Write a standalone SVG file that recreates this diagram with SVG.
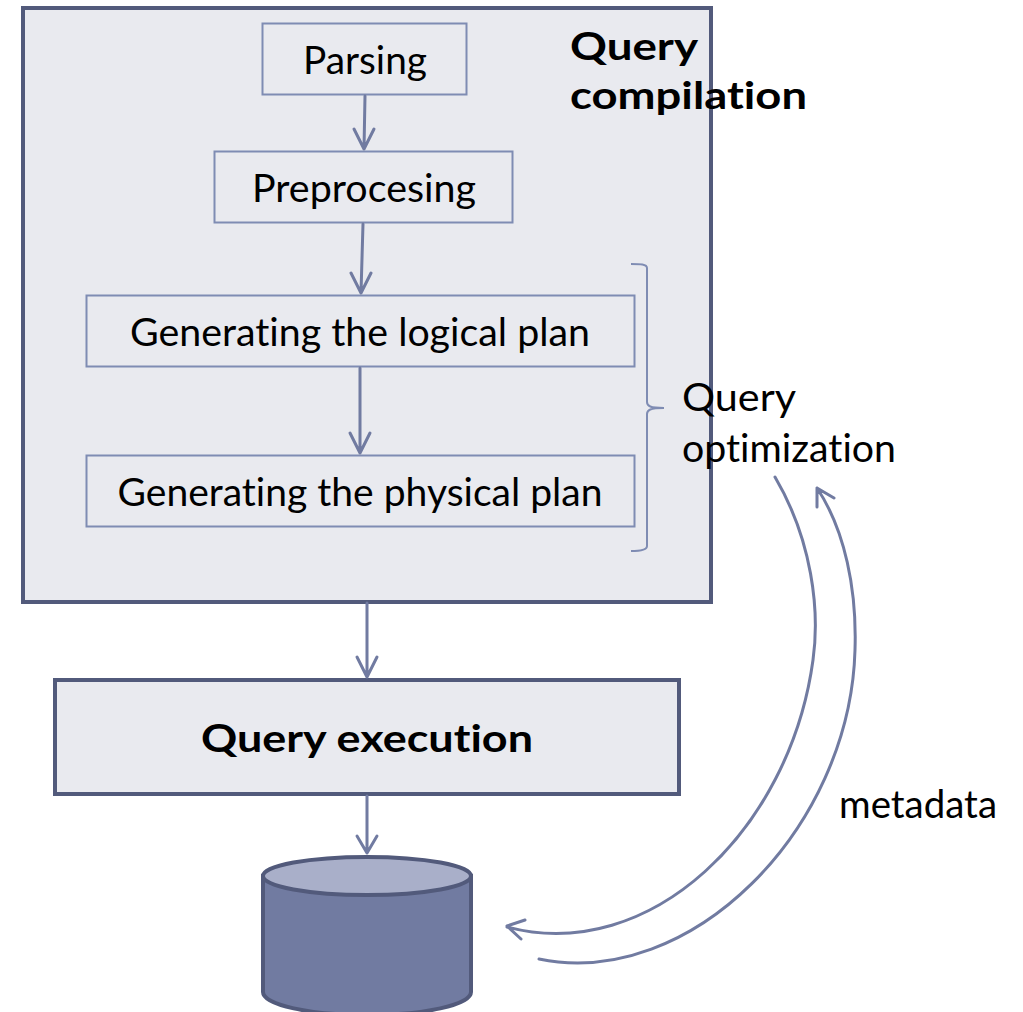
<svg xmlns="http://www.w3.org/2000/svg" width="1023" height="1012" viewBox="0 0 1023 1012">
<style>
text{font-family:"Lato","Noto Sans",sans-serif;font-size:38px;fill:#000;font-variant-ligatures:none}
.b{font-weight:700}
.step{fill:none;stroke:#7f8cb3;stroke-width:2}
.frame{fill:#e9eaef;stroke:#525a7b;stroke-width:4}
.c{fill:none;stroke:#717ba1;stroke-width:3;stroke-linecap:round;stroke-linejoin:round}
.br{fill:none;stroke:#7f8cb3;stroke-width:2}
</style>
<rect width="1023" height="1012" fill="#fff"/>
<g id="query-compilation"><rect class="frame" x="23" y="8" width="688" height="594"/></g>
<g id="parsing"><rect class="step" x="262.500" y="23.500" width="204" height="71"/><text x="365" y="74" text-anchor="middle" textLength="124" lengthAdjust="spacingAndGlyphs">Parsing</text></g>
<g id="preprocesing"><rect class="step" x="214.500" y="151.500" width="298" height="71"/><text x="364" y="202" text-anchor="middle" textLength="224" lengthAdjust="spacingAndGlyphs">Preprocesing</text></g>
<g id="logical-plan"><rect class="step" x="86.500" y="295.500" width="548" height="71"/><text x="360" y="346" text-anchor="middle" textLength="460" lengthAdjust="spacingAndGlyphs">Generating the logical plan</text></g>
<g id="physical-plan"><rect class="step" x="86.500" y="455.500" width="548" height="71"/><text x="360" y="506" text-anchor="middle" textLength="485" lengthAdjust="spacingAndGlyphs">Generating the physical plan</text></g>
<g id="query-execution"><rect class="frame" x="55" y="680" width="624" height="114"/><text class="b" x="367" y="752" text-anchor="middle" textLength="332" lengthAdjust="spacingAndGlyphs">Query execution</text></g>
<g id="database">
<path d="M263 876V992C263 1005 310 1015 367 1015S471 1005 471 992V876Z" fill="#717ba1" stroke="#525a7b" stroke-width="4"/>
<ellipse cx="367" cy="876" rx="104" ry="19" fill="#a9afc9" stroke="#525a7b" stroke-width="4"/>
</g>
<g id="connectors">
<path class="c" d="M365 96L364 149M354 129L364 149L374 129"/>
<path class="c" d="M363 224L361 293M351 273L361 293L371 273"/>
<path class="c" d="M360 368V453M350 433L360 453L370 433"/>
<path class="c" d="M367 603V677M357 657L367 677L377 657"/>
<path class="c" d="M367 796V853M357 836L367 853L377 836"/>
<path class="c" d="M775 477C812 540 820 610 813 660C790 830 650 965 507 927M525 920L507 926L521 939"/>
<path class="c" d="M539 959C690 990 850 830 855 650C857 590 845 530 817 488M817 507L817 488L834 498"/>
</g>
<g id="optimization-brace"><path class="br" d="M631 264C640 264 647 264 647 268V402C647 406 650 408 664 408C650 408 647 410 647 414V546C647 550 640 551 631 551"/></g>
<g id="labels">
<text class="b" x="570" y="60" textLength="128" lengthAdjust="spacingAndGlyphs">Query</text>
<text class="b" x="570" y="109" textLength="237" lengthAdjust="spacingAndGlyphs">compilation</text>
<text x="682" y="411" textLength="114" lengthAdjust="spacingAndGlyphs">Query</text>
<text x="682" y="462" textLength="214" lengthAdjust="spacingAndGlyphs">optimization</text>
<text x="839" y="818" textLength="158" lengthAdjust="spacingAndGlyphs">metadata</text>
</g>
</svg>
